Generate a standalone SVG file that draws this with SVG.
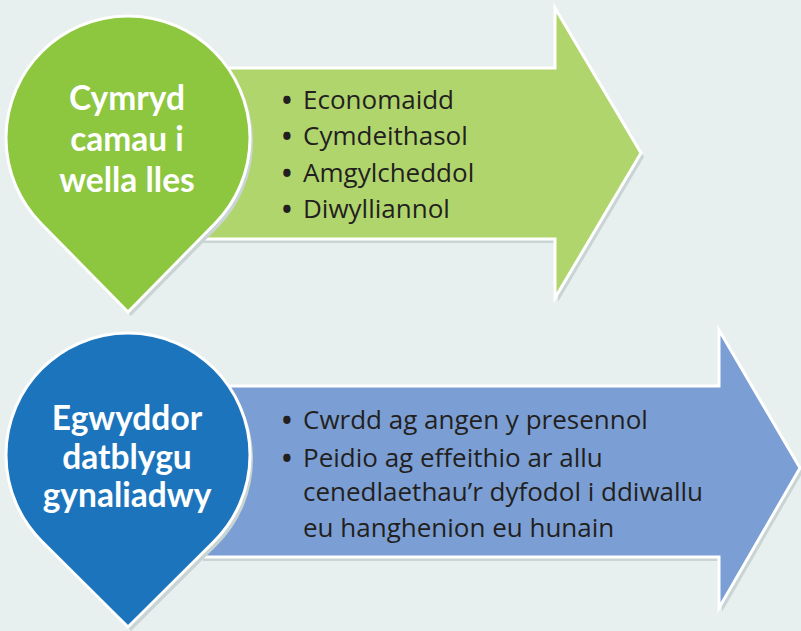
<svg xmlns="http://www.w3.org/2000/svg" width="801" height="631" viewBox="0 0 801 631">
  <style>
    .shadow { fill: #c9d5d4; }
    .edge { stroke: #ffffff; stroke-width: 3; stroke-linejoin: miter; }
    .title { font-family: Lato, "Open Sans", sans-serif; font-weight: 700; font-size: 33.5px; fill: #ffffff; text-anchor: middle; }
    .item { font-family: "Open Sans", "Noto Sans", sans-serif; font-size: 26px; fill: #231f20; }
    .dot { font-family: "Open Sans", "Noto Sans", sans-serif; font-size: 26px; font-weight: 700; fill: #231f20; }
  </style>
  <rect x="0" y="0" width="801" height="631" fill="#e7f0ee"/>

  <g id="arrow-top">
    <path class="shadow" transform="translate(3,4)" d="M200 68 L555 68 L555 8 L641 153 L555 298 L555 239 L200 239 Z"/>
    <path class="edge" fill="#b1d56d" d="M200 68 L555 68 L555 8 L641 153 L555 298 L555 239 L200 239 Z"/>
    <text class="dot" x="282" y="110">•</text>
    <text class="item" x="303" y="109">Economaidd</text>
    <text class="dot" x="282" y="146">•</text>
    <text class="item" x="303" y="145">Cymdeithasol</text>
    <text class="dot" x="282" y="183">•</text>
    <text class="item" x="303" y="182">Amgylcheddol</text>
    <text class="dot" x="282" y="219">•</text>
    <text class="item" x="303" y="218">Diwylliannol</text>
  </g>

  <g id="pin-top">
    <path class="shadow" transform="translate(3,4)" d="M128 312 L41 223.5 A122 122 0 1 1 215 223.5 Z"/>
    <path class="edge" fill="#8dc63f" d="M128 312 L41 223.5 A122 122 0 1 1 215 223.5 Z"/>
    <text class="title" x="127" y="110">Cymryd</text>
    <text class="title" x="127" y="151">camau i</text>
    <text class="title" x="127" y="192">wella lles</text>
  </g>

  <g id="arrow-bottom">
    <path class="shadow" transform="translate(3,4)" d="M200 386 L719 386 L719 330 L800 468 L719 608 L719 557 L200 557 Z"/>
    <path class="edge" fill="#7b9fd4" d="M200 386 L719 386 L719 330 L800 468 L719 608 L719 557 L200 557 Z"/>
    <text class="dot" x="282" y="430">•</text>
    <text class="item" x="303" y="429">Cwrdd ag angen y presennol</text>
    <text class="dot" x="282" y="468">•</text>
    <text class="item" x="303" y="467">Peidio ag effeithio ar allu</text>
    <text class="item" x="303" y="501">cenedlaethau’r dyfodol i ddiwallu</text>
    <text class="item" x="303" y="537">eu hanghenion eu hunain</text>
  </g>

  <g id="pin-bottom">
    <path class="shadow" transform="translate(3,4)" d="M128 627 L42 541.5 A122 122 0 1 1 214 541.5 Z"/>
    <path class="edge" fill="#1c75bc" d="M128 627 L42 541.5 A122 122 0 1 1 214 541.5 Z"/>
    <text class="title" x="127" y="430">Egwyddor</text>
    <text class="title" x="127" y="469">datblygu</text>
    <text class="title" x="127" y="507">gynaliadwy</text>
  </g>
</svg>
